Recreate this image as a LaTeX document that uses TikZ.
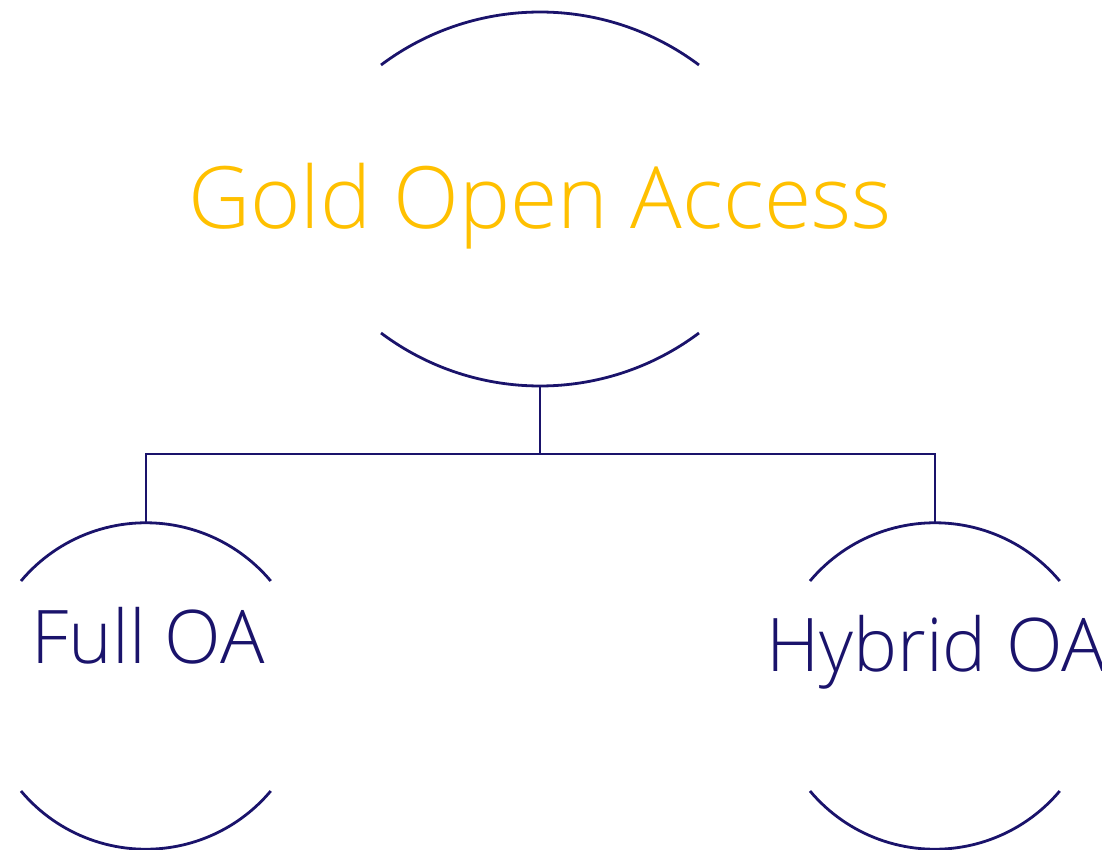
\documentclass[tikz,border=0pt]{standalone}
\usepackage{fontspec}
\setmainfont{Open Sans}[UprightFont={* Light}]
\definecolor{navy}{HTML}{1A136B}
\definecolor{gold}{HTML}{FFC000}
\begin{document}
\begin{tikzpicture}[x=1pt,y=1pt,
  rim/.style={draw=navy,line width=2.8pt},
  link/.style={draw=navy,line width=2.8pt},
  goldtext/.style={text=gold,font=\fontsize{86}{100}\selectfont,anchor=base,inner sep=0pt},
  leaftext/.style={text=navy,font=\fontsize{74}{90}\selectfont,anchor=base,inner sep=0pt}]
\useasboundingbox (0,0) rectangle (1102,-850);
% top circle arcs
\draw[rim] (381,-65) arc[start angle=126.87,end angle=53.13,radius=265];
\draw[rim] (381,-333) arc[start angle=233.13,end angle=306.87,radius=265];
% left circle
\draw[rim] (21,-581) arc[start angle=140,end angle=40,radius=163];
\draw[rim] (21,-791) arc[start angle=220,end angle=320,radius=163];
% right circle
\draw[rim] (810,-581) arc[start angle=140,end angle=40,radius=163];
\draw[rim] (810,-791) arc[start angle=220,end angle=320,radius=163];
% texts
\node[goldtext] (gold) at (540,-229) {Gold Open Access};
\node[leaftext] (full) at (148,-663) {Full OA};
\node[leaftext] (hybrid) at (936,-671) {Hybrid OA};
% connector points
\coordinate (gbot) at (540,-386);
\coordinate (junction) at (540,-454);
\coordinate (fulltop) at (146,-523);
\coordinate (hybtop) at (935,-523);
\draw[link] (gbot) -- (junction);
\draw[link] (fulltop) |- (junction) -| (hybtop);
\end{tikzpicture}
\end{document}
